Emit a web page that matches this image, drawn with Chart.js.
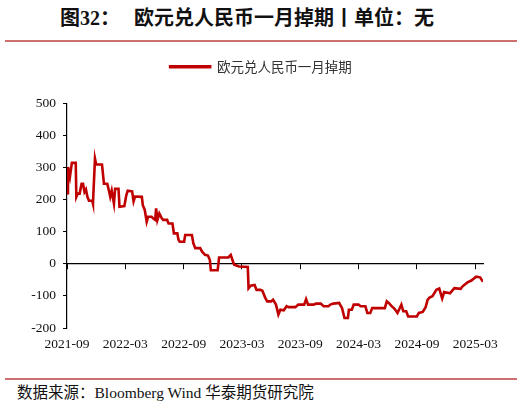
<!DOCTYPE html>
<html>
<head>
<meta charset="utf-8">
<script src="https://cdn.jsdelivr.net/npm/chart.js@4.4.1/dist/chart.umd.min.js"></script>
<style>
  body { margin: 0; width: 522px; height: 405px; background: #fff; position: relative; overflow: hidden; }
  .title { position: absolute; left: 60px; top: 2px; font: bold 20px "Liberation Serif", "Noto Sans CJK SC"; color: #111; white-space: nowrap; }
  .title .gap { display: inline-block; width: 14px; }
  .rule { position: absolute; left: 5px; width: 512px; height: 2px; background: #cf7070; }
  .source { position: absolute; left: 17px; top: 380px; font: 15.5px "Liberation Serif", "Noto Sans CJK SC"; color: #111; white-space: nowrap; }
  .wrap { position: absolute; left: 0; top: 50px; width: 522px; height: 310px; }
</style>
</head>
<body>
<div class="title">图32：<span class="gap"></span>欧元兑人民币一月掉期丨单位：无</div>
<div class="rule" style="top:40px"></div>
<div class="wrap"><canvas id="swapChart"></canvas></div>
<div class="rule" style="top:378px"></div>
<div class="source">数据来源：Bloomberg Wind 华泰期货研究院</div>

<script>
// ===== Data =====
// x = months after 2021-09, y = swap points
const seriesName = '欧元兑人民币一月掉期';
const months = [
  0, 0.1, 0.3, 0.5, 0.9, 0.96, 1.1, 1.3, 1.5, 1.65, 1.8, 1.95,
  2.1, 2.26, 2.6, 2.67, 2.88, 3.0, 3.6, 3.8, 4.14, 4.3, 4.45, 4.6,
  4.83, 4.95, 5.3, 5.4, 5.9, 6.1, 6.25, 6.7, 6.85, 7.0, 7.7, 7.8,
  8.0, 8.2, 8.35, 8.7, 8.85, 9.07, 9.17, 9.3, 9.5, 9.75, 9.9, 10.3,
  10.45, 10.85, 11.0, 11.35, 11.47, 11.6, 12.05, 12.16, 12.85, 13.0, 13.2, 13.7,
  13.9, 14.2, 14.5, 14.7, 14.8, 15.5, 15.65, 16.6, 16.85, 17.1, 17.2, 17.7,
  18.6, 18.68, 18.9, 19.3, 19.5, 19.9, 20.1, 20.4, 20.6, 21.0, 21.2, 21.5,
  21.75, 21.95, 22.3, 22.6, 22.8, 23.5, 23.8, 24.4, 24.6, 24.8, 25.4, 25.6,
  26.1, 26.4, 26.9, 27.1, 27.4, 28.0, 28.3, 28.55, 28.9, 29.0, 29.3, 29.5,
  30.0, 30.2, 30.7, 30.9, 31.2, 31.4, 32.7, 32.9, 33.1, 33.4, 33.7, 34.0,
  34.4, 34.6, 34.9, 35.1, 36.0, 36.2, 36.6, 36.9, 37.1, 37.3, 37.6, 38.0,
  38.3, 38.6, 38.8, 39.4, 39.85, 40.5, 40.7, 41.2, 41.6, 42.1, 42.5, 42.8
];
const swapPts = [
  220, 302, 271, 315, 315, 209, 219, 219, 250, 250, 224, 232,
  209, 197, 197, 188, 328, 310, 310, 250, 250, 230, 209, 228,
  188, 234, 234, 178, 180, 214, 228, 226, 195, 210, 209, 183,
  168, 131, 147, 147, 142, 137, 173, 137, 157, 142, 137, 137,
  126, 126, 95, 95, 75, 69, 69, 90, 90, 64, 49, 49,
  38, 28, 26, 12, -20, -20, 20, 20, 28, 5, -3, -8,
  -10, -76, -68, -66, -81, -81, -84, -106, -117, -117, -112, -127,
  -158, -143, -145, -132, -135, -135, -127, -127, -110, -127, -127, -124,
  -124, -132, -132, -127, -124, -122, -138, -169, -169, -143, -143, -127,
  -127, -132, -132, -153, -153, -138, -138, -117, -122, -132, -140, -153,
  -127, -148, -148, -164, -164, -153, -150, -135, -112, -105, -101, -81,
  -77, -108, -88, -92, -76, -78, -70, -58, -52, -40, -42, -56
];
const tickMonths = [0, 6, 12, 18, 24, 30, 36, 42];
const tickLabels = ['2021-09', '2022-03', '2022-09', '2023-03', '2023-09', '2024-03', '2024-09', '2025-03'];
const xMax = 42.8;
const yMin = -200, yMax = 500, yStep = 100;

// ===== Chart =====
const serif = '"Liberation Serif", "Noto Sans CJK SC"';
const setTicks = axis => { axis.ticks = tickMonths.map(v => ({ value: v })); };

// extra room between legend and plot
const legendGap = {
  id: 'legendGap',
  beforeInit(chart) {
    const fit = chart.legend.fit;
    chart.legend.fit = function () {
      fit.call(this);
      this.height += 20;
    };
  }
};

new Chart(document.getElementById('swapChart'), {
  type: 'line',
  data: {
    datasets: [{
      label: seriesName,
      data: months.map((m, i) => ({ x: m, y: swapPts[i] })),
      borderColor: '#c00000',
      backgroundColor: '#c00000',
      borderWidth: 2.6,
      pointRadius: 0,
      tension: 0
    }]
  },
  options: {
    responsive: true,
    maintainAspectRatio: false,
    animation: false,
    layout: { padding: 0 },
    plugins: {
      tooltip: { enabled: false },
      legend: {
        position: 'top',
        labels: {
          boxWidth: 40,
          boxHeight: 1,
          padding: 10,
          color: '#333',
          font: { family: '"Noto Sans CJK SC"', size: 13.5 }
        }
      }
    },
    scales: {
      x: {
        type: 'linear',
        min: 0,
        max: xMax,
        afterBuildTicks: setTicks,
        afterFit: s => { s.height = 32; },
        border: { display: false },
        grid: { display: false, drawTicks: false },
        ticks: {
          color: '#111',
          padding: 8,
          maxRotation: 0,
          autoSkip: false,
          font: { family: serif, size: 13.5 },
          callback: v => tickLabels[tickMonths.indexOf(v)] || ''
        }
      },
      x2: {
        type: 'linear',
        position: { y: 0 },
        min: 0,
        max: xMax,
        afterBuildTicks: setTicks,
        border: { display: true, color: '#000', width: 1.2 },
        grid: { drawOnChartArea: false, drawTicks: true, tickLength: 5, color: '#000' },
        ticks: { display: false }
      },
      y: {
        min: yMin,
        max: yMax,
        afterFit: s => { s.width = 67; },
        border: { display: true, color: '#000', width: 1.2 },
        grid: { drawOnChartArea: false, drawTicks: true, tickLength: 4, color: '#000' },
        ticks: {
          stepSize: yStep,
          color: '#111',
          padding: 7,
          font: { family: serif, size: 13.5 }
        }
      },
      // empty right margin so the legend centres on the whole canvas
      yRight: {
        position: 'right',
        min: yMin,
        max: yMax,
        afterFit: s => { s.width = 39; },
        border: { display: false },
        grid: { display: false },
        ticks: { display: false }
      }
    }
  },
  plugins: [legendGap]
});
</script>
</body>
</html>
